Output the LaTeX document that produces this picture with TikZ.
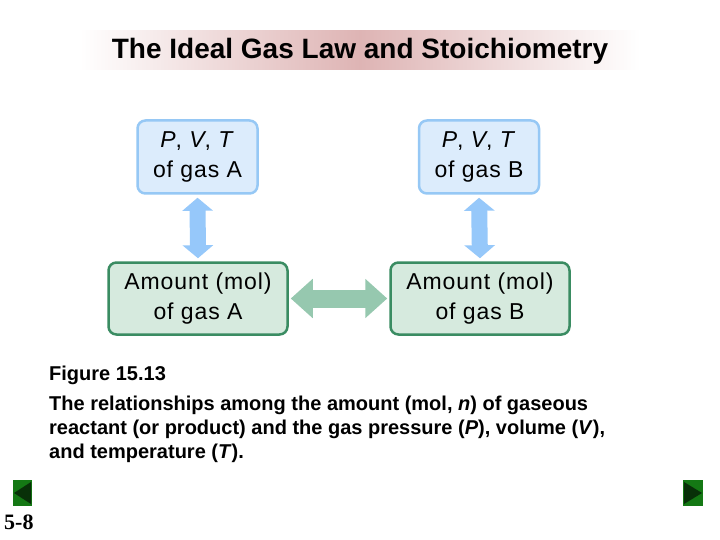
\documentclass[tikz,border=0pt]{standalone}
\usepackage{fontspec}
\setmainfont{Liberation Sans}
\newfontfamily\serifb{Liberation Serif}
\newfontfamily\boxfont[LetterSpace=4]{Liberation Sans}
\usetikzlibrary{arrows.meta}
\definecolor{bluefill}{RGB}{220,236,252}
\definecolor{blueline}{RGB}{150,200,245}
\definecolor{greenfill}{RGB}{214,234,222}
\definecolor{greenline}{RGB}{58,140,98}
\definecolor{harrow}{RGB}{150,200,175}
\definecolor{varrow}{RGB}{150,200,250}
\definecolor{band}{RGB}{222,180,180}
\definecolor{navg}{RGB}{20,120,20}
\tikzset{
 pvt/.style={draw=blueline, fill=bluefill, line width=2.5pt, rounded corners=8pt, minimum width=120pt, minimum height=73pt, inner sep=0pt, align=center, font=\boxfont\fontsize{23}{30}\selectfont},
 amt/.style={draw=greenline, fill=greenfill, line width=2.5pt, rounded corners=8pt, minimum width=179pt, minimum height=72pt, inner sep=0pt, align=center, font=\boxfont\fontsize{23}{30}\selectfont},
 varr/.style={varrow, line width=16pt, {Triangle[length=13pt,width=30pt]}-{Triangle[length=13pt,width=30pt]}, shorten <=3pt, shorten >=3pt},
 harr/.style={harrow, line width=18pt, {Triangle[length=22pt,width=38pt]}-{Triangle[length=22pt,width=38pt]}, shorten <=2pt, shorten >=2pt},
}
\begin{document}
\begin{tikzpicture}[x=1pt,y=-1pt]
\useasboundingbox[fill=white] (0,0) rectangle (720,540);
\shade[left color=white, right color=white, middle color=band] (80,31) rectangle (640,70);
\node[font=\bfseries\fontsize{28}{32}\selectfont] (title) at (360,51) {The Ideal Gas Law and Stoichiometry};
\node[pvt] (pa) at (197.5,157) {\textit{P}, \textit{V}, \textit{T}\\of gas A};
\node[pvt] (pb) at (479,157) {\textit{P}, \textit{V}, \textit{T}\\of gas B};
\node[amt] (aa) at (198,298.5) {Amount (mol)\\of gas A};
\node[amt] (ab) at (480,298.5) {Amount (mol)\\of gas B};
\draw[varr] (pa.south) -- (aa.north);
\draw[varr] (pb.south) -- (ab.north);
\draw[harr] (aa.east) -- (ab.west);
\node[anchor=north west, align=left, font=\bfseries\fontsize{20}{24}\selectfont, inner sep=0pt] (cap) at (49,366)
 {Figure 15.13\\[6pt]The relationships among the amount (mol, \textit{n}) of gaseous\\reactant (or product) and the gas pressure (\textit{P}), volume (\textit{V}),\\and temperature (\textit{T}).};
\fill[navg] (13,480) rectangle (32,506);
\fill[black!60!navg] (14,493) -- (31,482) -- (31,504) -- cycle;
\fill[navg] (683,480) rectangle (703,506);
\fill[black!60!navg] (702,493) -- (684,482) -- (684,504) -- cycle;
\node[font=\serifb\bfseries\fontsize{22}{24}\selectfont, anchor=west, inner sep=0pt] (pg) at (4,522) {5-8};
\end{tikzpicture}
\end{document}
